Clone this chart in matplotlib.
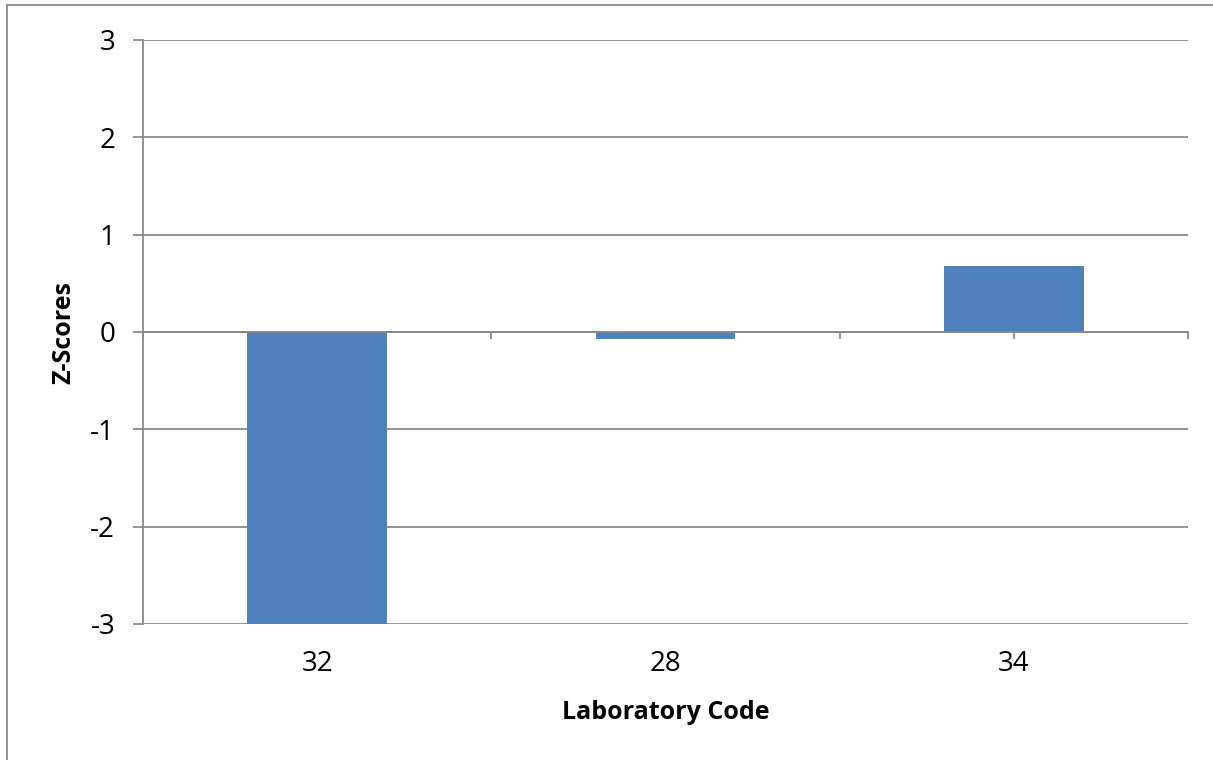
import numpy as np
import matplotlib.pyplot as plt
from matplotlib.patches import Rectangle

labs = ["32", "28", "34"]
zsc = [-3.03, -0.07, 0.68]

plt.rcParams['font.family'] = ['Open Sans', 'DejaVu Sans']
plt.rcParams['axes.unicode_minus'] = False
grey = '#898989'

fig = plt.figure(figsize=(12.13, 7.6), dpi=100)
ax = fig.add_axes([143/1213, 1-624/760, (1188-143)/1213, (624-40)/760])

x = np.arange(len(labs))
ax.bar(x, zsc, width=0.4, color='#4F81BD', zorder=2)

ax.set_xlim(-0.5, len(labs) - 0.5)
ax.set_ylim(-3, 3)
ax.set_yticks(np.arange(-3, 4))
ax.yaxis.grid(True, color=grey, lw=1.3, zorder=0)
ax.set_axisbelow(True)
ax.tick_params(axis='y', length=7, width=1.3, color=grey, pad=13, labelsize=20)

for s in ['top', 'right']:
    ax.spines[s].set_visible(False)
ax.spines['left'].set_color(grey)
ax.spines['left'].set_linewidth(1.3)
ax.spines['bottom'].set_position(('data', 0))
ax.spines['bottom'].set_color(grey)
ax.spines['bottom'].set_linewidth(1.3)
ax.spines['bottom'].set_zorder(3)

ax.set_xticks(np.arange(-0.5, len(labs), 0.5))
ax.tick_params(axis='x', length=5, width=1.3, color=grey, labelbottom=False)
for xi, lb in zip(x, labs):
    ax.text(xi, -0.068, lb, transform=ax.get_xaxis_transform(),
            ha='center', va='center', fontsize=20)

ax.text(0.5, -0.151, "Laboratory Code", transform=ax.transAxes,
        ha='center', va='center', fontsize=18, fontweight='bold')
ax.set_ylabel("Z-Scores", fontsize=18, fontweight='bold', labelpad=10)

fig.patches.append(Rectangle((7/1213, -0.1), 1.2, 1.1 - 5/760, transform=fig.transFigure,
                             fill=False, edgecolor=grey, lw=1.3))

fig.savefig("out.png", dpi=100)
